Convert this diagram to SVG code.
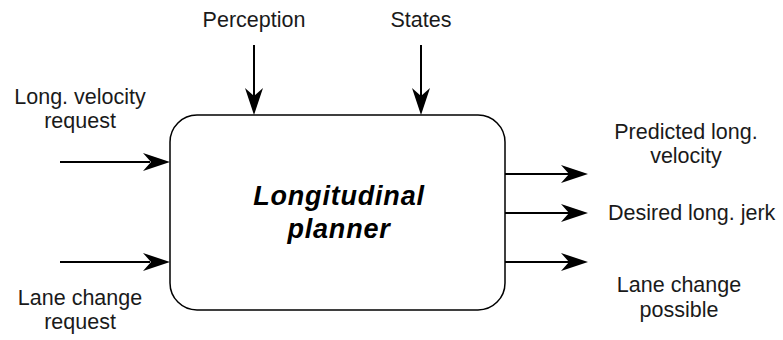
<svg xmlns="http://www.w3.org/2000/svg" width="783" height="340" viewBox="0 0 783 340">
  <style>
    .lbl { font-family: "Liberation Sans", Arial, sans-serif; font-size: 21.5px; fill: #1a1a1a; }
    .title { font-family: "Liberation Sans", Arial, sans-serif; font-size: 27px; letter-spacing: 0.8px; font-weight: bold; font-style: italic; fill: #000; }
    .shaft { stroke: #000; stroke-width: 2; fill: none; }
    .head { fill: #000; }
  </style>
  <rect width="783" height="340" fill="#fff"/>

  <g id="connectors">
    <!-- top inputs -->
    <line class="shaft" x1="254" y1="45" x2="254" y2="100"/>
    <path class="head" d="M254,115 L245,88 L254,96 L263,88 Z"/>
    <line class="shaft" x1="421" y1="45" x2="421" y2="100"/>
    <path class="head" d="M421,115 L412,88 L421,96 L430,88 Z"/>
    <!-- left inputs -->
    <line class="shaft" x1="60" y1="162" x2="150" y2="162"/>
    <path class="head" d="M170,162 L143,153 L151,162 L143,171 Z"/>
    <line class="shaft" x1="60" y1="262" x2="150" y2="262"/>
    <path class="head" d="M170,262 L143,253 L151,262 L143,271 Z"/>
    <!-- right outputs -->
    <line class="shaft" x1="505" y1="174" x2="570" y2="174"/>
    <path class="head" d="M588,174 L561,165 L569,174 L561,183 Z"/>
    <line class="shaft" x1="505" y1="213" x2="570" y2="213"/>
    <path class="head" d="M588,213 L561,204 L569,213 L561,222 Z"/>
    <line class="shaft" x1="505" y1="262" x2="570" y2="262"/>
    <path class="head" d="M588,262 L561,253 L569,262 L561,271 Z"/>
  </g>

  <g id="planner">
    <rect x="170" y="115" width="335" height="195" rx="27" ry="27" fill="#fff" stroke="#000" stroke-width="1.5"/>
    <text class="title" x="339" y="205" text-anchor="middle">Longitudinal</text>
    <text class="title" x="339" y="238" text-anchor="middle">planner</text>
  </g>

  <g id="perception">
    <text class="lbl" x="254" y="27" text-anchor="middle">Perception</text>
  </g>
  <g id="states">
    <text class="lbl" x="421" y="27" text-anchor="middle">States</text>
  </g>
  <g id="velocity-request">
    <text class="lbl" x="80" y="104" text-anchor="middle">Long. velocity</text>
    <text class="lbl" x="80" y="128" text-anchor="middle">request</text>
  </g>
  <g id="lane-change-request">
    <text class="lbl" x="80" y="305" text-anchor="middle">Lane change</text>
    <text class="lbl" x="80" y="329" text-anchor="middle">request</text>
  </g>
  <g id="predicted-velocity">
    <text class="lbl" x="686" y="139" text-anchor="middle">Predicted long.</text>
    <text class="lbl" x="686" y="163" text-anchor="middle">velocity</text>
  </g>
  <g id="desired-jerk">
    <text class="lbl" x="608" y="220">Desired long. jerk</text>
  </g>
  <g id="lane-change-possible">
    <text class="lbl" x="679" y="292" text-anchor="middle">Lane change</text>
    <text class="lbl" x="679" y="317" text-anchor="middle">possible</text>
  </g>
</svg>
